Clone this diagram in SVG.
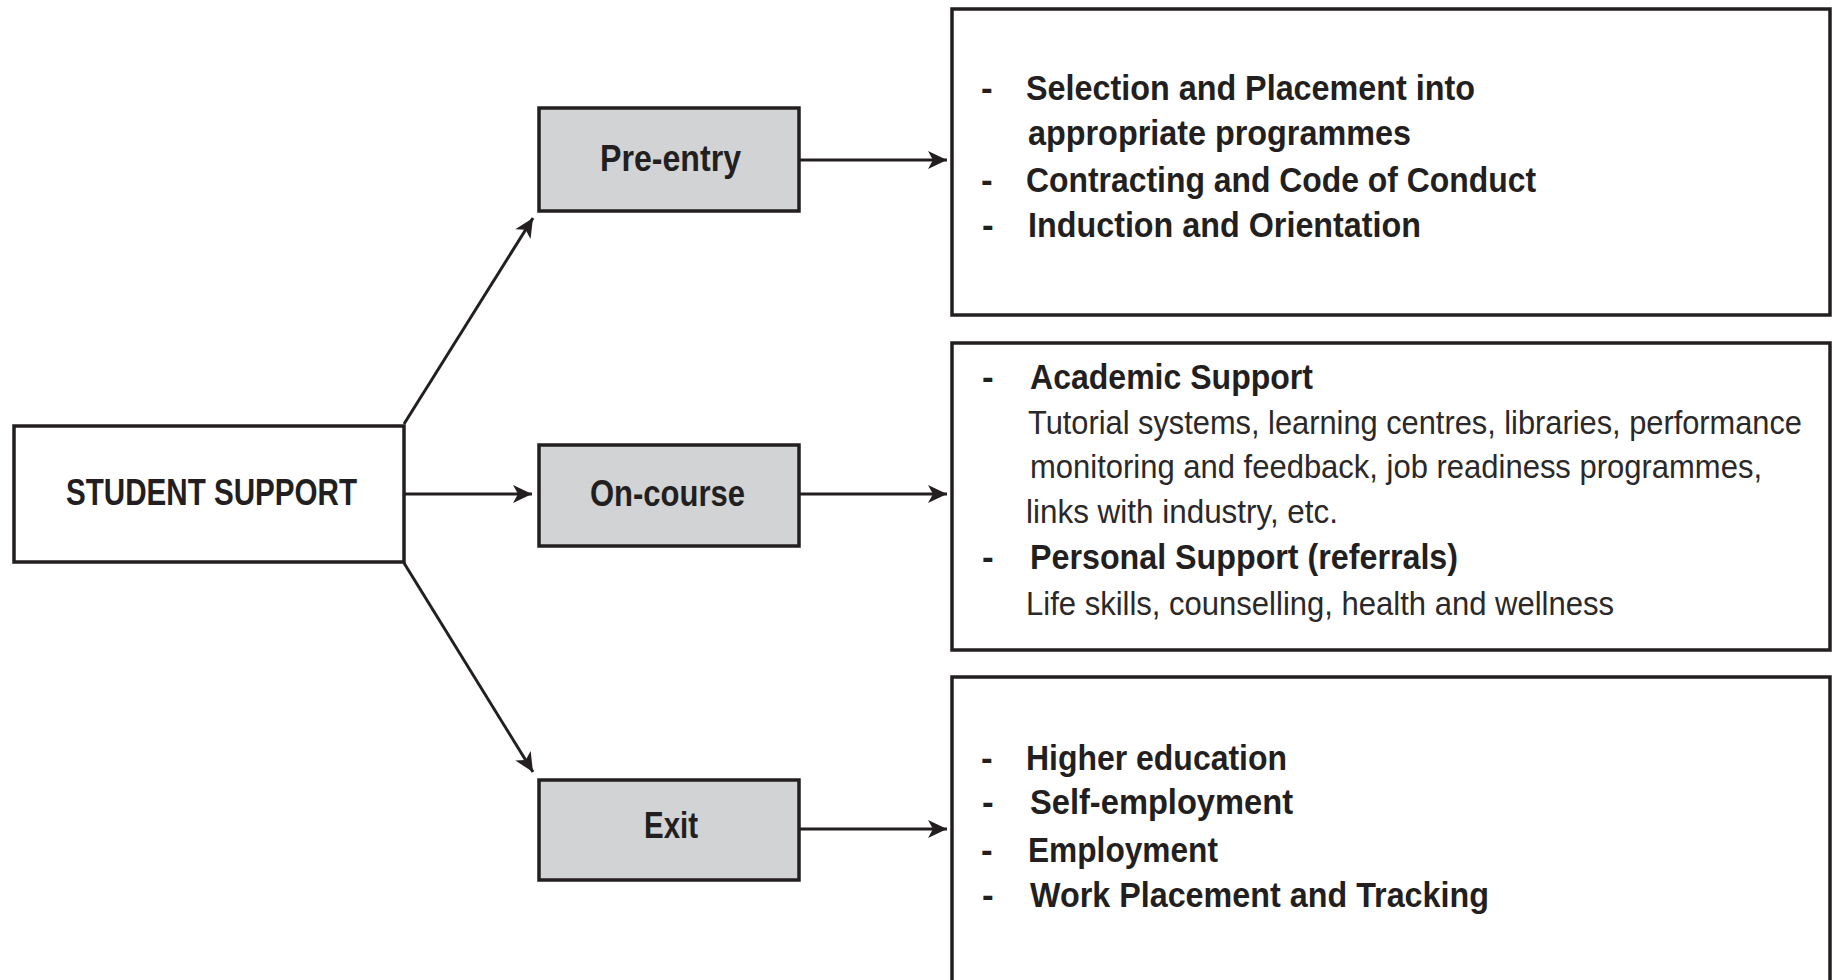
<svg xmlns="http://www.w3.org/2000/svg" width="1832" height="980" viewBox="0 0 1832 980">
<style>
.box{fill:#ffffff;stroke:#231f20;stroke-width:3.5}
.stage{fill:#d1d3d4;stroke:#231f20;stroke-width:3.5}
.lbl{font-family:"Liberation Sans",Arial,sans-serif;font-weight:bold;font-size:37px;fill:#231f20}
.b{font-family:"Liberation Sans",Arial,sans-serif;font-weight:bold;font-size:35px;fill:#231f20}
.r{font-family:"Liberation Sans",Arial,sans-serif;font-size:33px;fill:#2b2829}
.conn{stroke:#231f20;stroke-width:3;fill:none;marker-end:url(#ah)}
</style>
<defs>
<marker id="ah" markerUnits="userSpaceOnUse" markerWidth="26" markerHeight="22" viewBox="-22 -11 24 22" refX="0" refY="0" orient="auto">
<path d="M0,0 L-19,-9 L-14,0 L-19,9 Z" fill="#231f20"/>
</marker>
</defs>
<rect width="1832" height="980" fill="#ffffff"/>
<g id="connectors">
<line class="conn" x1="404" y1="424" x2="533" y2="218"/>
<line class="conn" x1="404" y1="494" x2="532" y2="494"/>
<line class="conn" x1="404" y1="563" x2="533" y2="772"/>
<line class="conn" x1="799" y1="160" x2="947" y2="160"/>
<line class="conn" x1="799" y1="494" x2="947" y2="494"/>
<line class="conn" x1="799" y1="829" x2="947" y2="829"/>
</g>
<g id="student-support">
<rect class="box" x="14" y="426" width="390" height="136"/>
<text class="lbl" x="66" y="505" textLength="291" lengthAdjust="spacingAndGlyphs">STUDENT SUPPORT</text>
</g>
<g id="pre-entry">
<rect class="stage" x="539" y="108" width="260" height="103"/>
<text class="lbl" x="600" y="171" textLength="141" lengthAdjust="spacingAndGlyphs">Pre-entry</text>
</g>
<g id="on-course">
<rect class="stage" x="539" y="445" width="260" height="101"/>
<text class="lbl" x="590" y="506" textLength="155" lengthAdjust="spacingAndGlyphs">On-course</text>
</g>
<g id="exit">
<rect class="stage" x="539" y="780" width="260" height="100"/>
<text class="lbl" x="644" y="838" textLength="54" lengthAdjust="spacingAndGlyphs">Exit</text>
</g>
<g id="pre-entry-details">
<rect class="box" x="952" y="9" width="878" height="306"/>
<text class="b" x="981" y="100">-</text>
<text class="b" x="1026" y="100" textLength="449" lengthAdjust="spacingAndGlyphs">Selection and Placement into</text>
<text class="b" x="1028" y="145" textLength="383" lengthAdjust="spacingAndGlyphs">appropriate programmes</text>
<text class="b" x="981" y="192">-</text>
<text class="b" x="1026" y="192" textLength="510" lengthAdjust="spacingAndGlyphs">Contracting and Code of Conduct</text>
<text class="b" x="982" y="237">-</text>
<text class="b" x="1028" y="237" textLength="393" lengthAdjust="spacingAndGlyphs">Induction and Orientation</text>
</g>
<g id="on-course-details">
<rect class="box" x="952" y="343" width="878" height="307"/>
<text class="b" x="982" y="389">-</text>
<text class="b" x="1030" y="389" textLength="283" lengthAdjust="spacingAndGlyphs">Academic Support</text>
<text class="r" transform="translate(1028,434) scale(0.9,1)" x="0" y="0" textLength="860" lengthAdjust="spacingAndGlyphs">Tutorial systems, learning centres, libraries, performance</text>
<text class="r" x="1030" y="478" textLength="732" lengthAdjust="spacingAndGlyphs">monitoring and feedback, job readiness programmes,</text>
<text class="r" x="1026" y="523" textLength="312" lengthAdjust="spacingAndGlyphs">links with industry, etc.</text>
<text class="b" x="982" y="569">-</text>
<text class="b" x="1030" y="569" textLength="428" lengthAdjust="spacingAndGlyphs">Personal Support (referrals)</text>
<text class="r" x="1026" y="615" textLength="588" lengthAdjust="spacingAndGlyphs">Life skills, counselling, health and wellness</text>
</g>
<g id="exit-details">
<rect class="box" x="952" y="677" width="878" height="320"/>
<text class="b" x="981" y="770">-</text>
<text class="b" x="1026" y="770" textLength="261" lengthAdjust="spacingAndGlyphs">Higher education</text>
<text class="b" x="982" y="814">-</text>
<text class="b" x="1030" y="814" textLength="263" lengthAdjust="spacingAndGlyphs">Self-employment</text>
<text class="b" x="981" y="862">-</text>
<text class="b" x="1028" y="862" textLength="190" lengthAdjust="spacingAndGlyphs">Employment</text>
<text class="b" x="982" y="907">-</text>
<text class="b" x="1030" y="907" textLength="459" lengthAdjust="spacingAndGlyphs">Work Placement and Tracking</text>
</g>
</svg>
